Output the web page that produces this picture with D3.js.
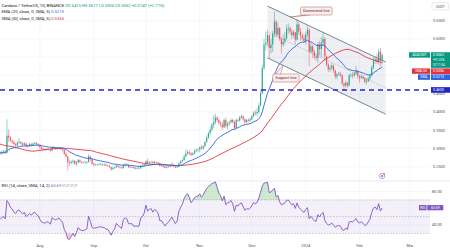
<!DOCTYPE html>
<html>
<head>
<meta charset="utf-8">
<script src="https://cdn.jsdelivr.net/npm/d3@7"></script>
<style>
html, body { margin: 0; padding: 0; background: #fff; }
svg { display: block; font-family: Roboto, "Open Sans", sans-serif; }
</style>
</head>
<body>
<svg id="chart" width="450" height="249"></svg>
<script>
// closes before the visible range (May 20 - Jul 8 2023), only feed the indicators
const warmup = [0.370,0.365,0.362,0.366,0.356,0.357,0.362,0.366,0.380,0.373,0.374,0.372,
  0.367,0.374,0.375,0.376,0.348,0.360,0.327,0.327,0.310,0.265,0.275,0.276,0.275,0.260,0.255,
  0.268,0.272,0.266,0.272,0.285,0.298,0.290,0.292,0.283,0.283,0.278,0.282,0.281,0.277,0.287,
  0.295,0.290,0.292,0.290,0.283,0.280,0.287,0.286];

// daily candles [close, high, low], first day Jul 9 2023
const jul23 = [[0.287,0.292,0.283],[0.290,0.294,0.282],[0.292,0.296,0.286],[0.288,0.297,0.285],
  [0.335,0.380,0.286],[0.330,0.352,0.318],[0.322,0.334,0.318],[0.318,0.325,0.312],[0.312,0.320,0.305],
  [0.308,0.315,0.302],[0.316,0.322,0.306],[0.318,0.328,0.312],[0.314,0.320,0.310],[0.310,0.317,0.306],
  [0.314,0.318,0.308],[0.306,0.315,0.302],[0.308,0.311,0.302],[0.312,0.316,0.305],[0.309,0.315,0.305],
  [0.313,0.317,0.307],[0.315,0.318,0.311],[0.311,0.318,0.308],[0.309,0.315,0.305]];
const aug23 = [[0.303,0.312,0.298],[0.298,0.306,0.294],[0.297,0.302,0.294],[0.296,0.300,0.292],
  [0.298,0.301,0.294],[0.297,0.300,0.294],[0.294,0.299,0.289],[0.302,0.306,0.292],[0.300,0.307,0.297],
  [0.299,0.303,0.296],[0.300,0.303,0.296],[0.301,0.304,0.298],[0.298,0.303,0.295],[0.296,0.302,0.292],
  [0.285,0.298,0.282],[0.278,0.290,0.275],[0.262,0.280,0.240],[0.260,0.270,0.252],[0.263,0.268,0.256],
  [0.266,0.270,0.259],[0.258,0.268,0.254],[0.262,0.265,0.252],[0.268,0.272,0.258],[0.263,0.270,0.260],
  [0.262,0.265,0.258],[0.261,0.264,0.258],[0.262,0.265,0.259],[0.263,0.266,0.258],[0.278,0.285,0.261],
  [0.270,0.280,0.266],[0.258,0.273,0.255]];
const sep23 = [[0.255,0.262,0.250],[0.256,0.258,0.253],[0.256,0.258,0.253],[0.257,0.260,0.253],
  [0.257,0.260,0.253],[0.256,0.259,0.252],[0.256,0.259,0.252],[0.253,0.259,0.250],[0.253,0.255,0.251],
  [0.249,0.254,0.247],[0.243,0.251,0.238],[0.246,0.250,0.242],[0.248,0.250,0.244],[0.253,0.256,0.247],
  [0.250,0.254,0.247],[0.248,0.251,0.246],[0.246,0.250,0.244],[0.254,0.258,0.245],[0.256,0.260,0.251],
  [0.255,0.260,0.252],[0.249,0.256,0.246],[0.249,0.252,0.246],[0.249,0.251,0.247],[0.246,0.250,0.244],
  [0.246,0.249,0.243],[0.246,0.249,0.243],[0.246,0.252,0.244],[0.252,0.255,0.244],[0.253,0.257,0.250],
  [0.256,0.258,0.251]];
const oct23 = [[0.265,0.268,0.254],[0.260,0.272,0.258],[0.262,0.265,0.257],[0.263,0.266,0.259],
  [0.260,0.266,0.257],[0.263,0.266,0.258],[0.262,0.264,0.260],[0.260,0.263,0.258],[0.253,0.261,0.250],
  [0.253,0.256,0.250],[0.250,0.255,0.247],[0.247,0.252,0.245],[0.249,0.252,0.246],[0.250,0.252,0.248],
  [0.252,0.254,0.249],[0.254,0.262,0.251],[0.251,0.256,0.248],[0.248,0.253,0.246],[0.250,0.253,0.246],
  [0.259,0.263,0.249],[0.264,0.268,0.258],[0.268,0.272,0.262],[0.278,0.283,0.266],[0.286,0.298,0.276],
  [0.290,0.295,0.282],[0.287,0.295,0.282],[0.282,0.290,0.279],[0.286,0.290,0.281],[0.293,0.297,0.284],
  [0.296,0.300,0.290],[0.297,0.300,0.289]];
const nov23 = [[0.303,0.306,0.290],[0.300,0.310,0.297],[0.306,0.308,0.296],[0.318,0.320,0.304],
  [0.330,0.336,0.316],[0.342,0.346,0.326],[0.352,0.360,0.336],[0.365,0.370,0.346],[0.372,0.392,0.356],
  [0.385,0.395,0.366],[0.378,0.388,0.372],[0.370,0.382,0.365],[0.366,0.375,0.358],[0.358,0.372,0.350],
  [0.378,0.382,0.356],[0.362,0.385,0.355],[0.368,0.372,0.352],[0.372,0.375,0.362],[0.378,0.382,0.368],
  [0.372,0.382,0.368],[0.356,0.376,0.350],[0.378,0.382,0.354],[0.376,0.382,0.372],[0.385,0.390,0.374],
  [0.388,0.392,0.382],[0.380,0.390,0.375],[0.372,0.383,0.366],[0.378,0.381,0.368],[0.376,0.383,0.372],
  [0.380,0.384,0.374]];
const dec23 = [[0.388,0.392,0.378],[0.398,0.402,0.386],[0.396,0.405,0.390],[0.400,0.410,0.388],
  [0.418,0.425,0.395],[0.452,0.460,0.415],[0.520,0.530,0.448],[0.585,0.600,0.515],[0.590,0.620,0.568],
  [0.610,0.625,0.580],[0.575,0.612,0.545],[0.585,0.600,0.560],[0.615,0.622,0.565],[0.648,0.675,0.605],
  [0.612,0.652,0.605],[0.630,0.645,0.605],[0.600,0.632,0.595],[0.585,0.605,0.560],[0.592,0.612,0.578],
  [0.602,0.618,0.585],[0.628,0.640,0.598],[0.630,0.642,0.615],[0.620,0.634,0.612],[0.610,0.626,0.600],
  [0.618,0.625,0.605],[0.598,0.620,0.585],[0.640,0.655,0.595],[0.620,0.648,0.612],[0.610,0.630,0.595],
  [0.602,0.615,0.596],[0.595,0.612,0.590]];
const jan24 = [[0.612,0.618,0.585],[0.625,0.635,0.605],[0.565,0.630,0.525],[0.580,0.590,0.560],
  [0.565,0.585,0.548],[0.552,0.570,0.545],[0.548,0.560,0.540],[0.585,0.592,0.535],[0.572,0.595,0.555],
  [0.590,0.605,0.550],[0.600,0.620,0.580],[0.552,0.605,0.540],[0.530,0.553,0.525],[0.517,0.535,0.510],
  [0.520,0.527,0.510],[0.527,0.535,0.515],[0.513,0.530,0.507],[0.497,0.517,0.490],[0.503,0.507,0.490],
  [0.505,0.510,0.500],[0.500,0.510,0.495],[0.478,0.503,0.472],[0.472,0.480,0.458],[0.480,0.486,0.468],
  [0.472,0.482,0.465],[0.500,0.505,0.470],[0.502,0.506,0.495],[0.500,0.508,0.492],[0.506,0.510,0.495],
  [0.512,0.525,0.502],[0.498,0.515,0.492]];
const feb24 = [[0.494,0.500,0.480],[0.497,0.504,0.490],[0.492,0.500,0.489],[0.482,0.495,0.478],
  [0.484,0.492,0.475],[0.492,0.497,0.482],[0.500,0.504,0.486],[0.522,0.527,0.497],[0.540,0.550,0.517],
  [0.544,0.552,0.532],[0.537,0.560,0.532],[0.565,0.572,0.530],[0.5415,0.575,0.525],[0.5562,0.5617,0.5306]];

// last indicator values as printed in the legends
const emaLast = 0.5213, smaLast = 0.5356, rsiLast = 60.69;

const monthDates = ['2023-08-01','2023-09-01','2023-10-01','2023-11-01','2023-12-01','2024-01-01','2024-02-01','2024-03-01'];
const monthLabels = ['Aug','Sep','Oct','Nov','Dec','2024','Feb','Mar'];
const priceTicks = [0.25,0.30,0.35,0.40,0.45,0.50,0.55,0.60,0.65];
const rsiTicks = [80,40];
const supportLevel = 0.46;

// channel drawn on the chart: [date, price]
const channelUpper = [['2023-12-10',0.690],['2024-02-16',0.537]];
const channelLower = [['2023-12-10',0.548],['2024-02-16',0.394]];
const channelMid = [['2023-12-10',0.619],['2024-02-16',0.466]];
const callouts = [
  {text:'Downtrend line', date:'2023-12-29', price:0.6875, tipDate:'2023-12-23', tipPrice:0.660},
  {text:'Support line', date:'2023-12-13', price:0.504, tipDate:'2023-12-19', tipPrice:0.5286}
];

const upColor = '#089981', downColor = '#f23645';
const emaColor = '#2e62e0', smaColor = '#e03340', rsiColor = '#7e57c2';

const svg = d3.select('svg#chart');
const plotW = 430;
const priceTop = 0, priceBottom = 181, rsiTop = 181, rsiBottom = 240;

const parse = d3.utcParse('%Y-%m-%d');
const startDate = parse('2023-07-09');
const candles = [].concat(jul23, aug23, sep23, oct23, nov23, dec23, jan24, feb24);
const allCloses = warmup.concat(candles.map(d => d[0]));
const data = candles.map((d, i) => ({
  date: d3.utcDay.offset(startDate, i),
  open: allCloses[warmup.length + i - 1],
  close: d[0], high: d[1], low: d[2]
}));

// indicators
const ema = [];
allCloses.forEach((c, i) => {
  ema.push(i === 0 ? c : c * 2 / 21 + ema[i - 1] * 19 / 21);
});
const sma = allCloses.map((c, i) => i < 49 ? null : d3.mean(allCloses.slice(i - 49, i + 1)));
const rsi = allCloses.map(() => null);
let au = 0, ad = 0;
for (let i = 1; i < allCloses.length; i++) {
  const ch = allCloses[i] - allCloses[i - 1];
  const u = Math.max(ch, 0), dn = Math.max(-ch, 0);
  if (i <= 14) { au += u / 14; ad += dn / 14; }
  else { au = (au * 13 + u) / 14; ad = (ad * 13 + dn) / 14; }
  if (i >= 14) rsi[i] = ad === 0 ? 100 : 100 - 100 / (1 + au / ad);
}
const off = warmup.length;
data.forEach((d, i) => { d.ema = ema[off + i]; d.sma = sma[off + i]; d.rsi = rsi[off + i]; });

const x = d3.scaleUtc()
  .domain([startDate, d3.utcDay.offset(startDate, 248)])
  .range([0, 248 * 1.737]);
const y = d3.scaleLinear().domain([0.25, 0.65]).range([166.7, 20.7]);
const yR = d3.scaleLinear().domain([40, 80]).range([225, 191.5]);

const defs = svg.append('defs');
defs.append('clipPath').attr('id', 'clipPrice').append('rect')
  .attr('x', 0).attr('y', priceTop).attr('width', plotW).attr('height', priceBottom - priceTop);
defs.append('clipPath').attr('id', 'clipRsi').append('rect')
  .attr('x', 0).attr('y', rsiTop).attr('width', plotW).attr('height', rsiBottom - rsiTop);

// grid
const grid = svg.append('g');
grid.selectAll('line.v').data(monthDates).enter().append('line')
  .attr('x1', d => x(parse(d))).attr('x2', d => x(parse(d)))
  .attr('y1', 0).attr('y2', rsiBottom)
  .attr('stroke', '#f0f3fa').attr('stroke-width', 0.7);
grid.selectAll('line.h').data(priceTicks).enter().append('line')
  .attr('x1', 0).attr('x2', plotW).attr('y1', d => y(d)).attr('y2', d => y(d))
  .attr('stroke', '#f0f3fa').attr('stroke-width', 0.7);
grid.selectAll('line.r').data(rsiTicks).enter().append('line')
  .attr('x1', 0).attr('x2', plotW).attr('y1', d => yR(d)).attr('y2', d => yR(d))
  .attr('stroke', '#f0f3fa').attr('stroke-width', 0.7);
svg.append('line').attr('x1', 0).attr('x2', 450).attr('y1', rsiTop).attr('y2', rsiTop)
  .attr('stroke', '#e0e3eb').attr('stroke-width', 0.7);

// price pane
const gp = svg.append('g').attr('clip-path', 'url(#clipPrice)');
const pt = p => [x(parse(p[0])), y(p[1])];

gp.append('polygon')
  .attr('points', [pt(channelUpper[0]), pt(channelUpper[1]), pt(channelLower[1]), pt(channelLower[0])].join(' '))
  .attr('fill', 'rgba(120,134,160,0.13)');
gp.append('line')
  .attr('x1', pt(channelMid[0])[0]).attr('y1', pt(channelMid[0])[1])
  .attr('x2', pt(channelMid[1])[0]).attr('y2', pt(channelMid[1])[1])
  .attr('stroke', '#9aa0ab').attr('stroke-width', 0.6).attr('stroke-dasharray', '1.2,1.2');

// candles
const cw = 1.1;
const cg = gp.append('g').attr('opacity', 0.85);
cg.selectAll('line').data(data).enter().append('line')
  .attr('x1', d => x(d.date)).attr('x2', d => x(d.date))
  .attr('y1', d => y(d.high)).attr('y2', d => y(d.low))
  .attr('stroke', d => d.close >= d.open ? upColor : downColor)
  .attr('stroke-width', 0.5);
cg.selectAll('rect').data(data).enter().append('rect')
  .attr('x', d => x(d.date) - cw / 2)
  .attr('y', d => y(Math.max(d.open, d.close)))
  .attr('width', cw)
  .attr('height', d => Math.max(0.5, Math.abs(y(d.open) - y(d.close))))
  .attr('fill', d => d.close >= d.open ? upColor : downColor);

// moving averages
const maLine = key => d3.line().defined(d => d[key] != null).x(d => x(d.date)).y(d => y(d[key]));
gp.append('path').datum(data).attr('d', maLine('sma'))
  .attr('fill', 'none').attr('stroke', smaColor).attr('stroke-width', 0.9);
gp.append('path').datum(data).attr('d', maLine('ema'))
  .attr('fill', 'none').attr('stroke', emaColor).attr('stroke-width', 0.9);

// channel lines
[channelUpper, channelLower].forEach(c => {
  gp.append('line')
    .attr('x1', pt(c[0])[0]).attr('y1', pt(c[0])[1])
    .attr('x2', pt(c[1])[0]).attr('y2', pt(c[1])[1])
    .attr('stroke', '#5f7f82').attr('stroke-width', 0.9);
});

// support level
gp.append('line')
  .attr('x1', 0).attr('x2', plotW).attr('y1', y(supportLevel)).attr('y2', y(supportLevel))
  .attr('stroke', '#2424c4').attr('stroke-width', 1.4).attr('stroke-dasharray', '5,4');

// callouts
callouts.forEach(c => {
  const bx = x(parse(c.date)), by = y(c.price);
  const g = svg.append('g');
  const t = g.append('text').attr('x', bx + 2.5).attr('y', by + 5.3)
    .attr('font-size', 4).attr('fill', '#5b2a2a').text(c.text);
  const bb = t.node().getBBox();
  const w = bb.width + 5, h = 8;
  const tx = x(parse(c.tipDate)), ty = y(c.tipPrice);
  const below = ty > by + h;
  g.insert('path', 'text')
    .attr('d', below
      ? `M${bx + 5},${by + h} L${tx},${ty} L${bx + 10},${by + h}`
      : `M${bx + 3},${by} L${tx},${ty} L${bx + 8},${by}`)
    .attr('fill', '#fbeeee').attr('stroke', '#b56262').attr('stroke-width', 0.5);
  g.insert('rect', 'text').attr('x', bx).attr('y', by).attr('width', w).attr('height', h)
    .attr('rx', 1.5).attr('fill', '#fbeeee').attr('stroke', '#b56262').attr('stroke-width', 0.5);
});

// rsi pane
const gr = svg.append('g').attr('clip-path', 'url(#clipRsi)');
gr.append('rect').attr('x', 0).attr('width', plotW)
  .attr('y', yR(70)).attr('height', yR(30) - yR(70))
  .attr('fill', 'rgba(126,87,194,0.09)');
[70, 50, 30].forEach(v => {
  gr.append('line').attr('x1', 0).attr('x2', plotW).attr('y1', yR(v)).attr('y2', yR(v))
    .attr('stroke', '#a3a6af').attr('stroke-width', 0.6).attr('stroke-dasharray', '1.5,1.5');
});
const rsiData = data.filter(d => d.rsi != null);
gr.append('path').datum(rsiData)
  .attr('d', d3.area().x(d => x(d.date)).y0(yR(70)).y1(d => yR(Math.max(70, d.rsi))))
  .attr('fill', 'rgba(76,175,80,0.28)');
gr.append('path').datum(rsiData)
  .attr('d', d3.area().x(d => x(d.date)).y0(yR(30)).y1(d => yR(Math.min(30, d.rsi))))
  .attr('fill', 'rgba(242,54,69,0.25)');
gr.append('path').datum(rsiData)
  .attr('d', d3.line().x(d => x(d.date)).y(d => yR(d.rsi)))
  .attr('fill', 'none').attr('stroke', rsiColor).attr('stroke-width', 0.9);

// event marker
const last = data[data.length - 1];
svg.append('circle').attr('cx', x(last.date)).attr('cy', 176).attr('r', 2.6)
  .attr('fill', '#fff').attr('stroke', '#a05bc4').attr('stroke-width', 0.6);
svg.append('circle').attr('cx', x(last.date)).attr('cy', 176).attr('r', 0.9).attr('fill', '#8e44ad');
svg.append('circle').attr('cx', x(last.date) + 2).attr('cy', 174).attr('r', 0.8).attr('fill', '#f23645');

// axis tags: [top, height]
const adaTop = y(last.close) - 2.7;
const tagSpans = [[adaTop, 15.6], [68.4, 5.6], [74.4, 5.6]];
const hidden = v => tagSpans.some(s => y(v) > s[0] && y(v) < s[0] + s[1]);

// right axis labels
const axisFont = 3.9;
svg.selectAll('text.py').data(priceTicks.filter(v => !hidden(v))).enter().append('text')
  .attr('x', 433).attr('y', d => y(d) + 1.4)
  .attr('font-size', axisFont).attr('fill', '#50535e').text(d => d.toFixed(4));
svg.selectAll('text.ry').data(rsiTicks).enter().append('text')
  .attr('x', 432).attr('y', d => yR(d) + 1.4)
  .attr('font-size', axisFont).attr('fill', '#50535e').text(d => d.toFixed(2));
svg.selectAll('text.mx').data(monthDates).enter().append('text')
  .attr('x', d => x(parse(d))).attr('y', 246.5).attr('text-anchor', 'middle')
  .attr('font-size', axisFont).attr('fill', '#50535e').text((d, i) => monthLabels[i]);

// USDT box
svg.append('rect').attr('x', 432).attr('y', 2.8).attr('width', 16.5).attr('height', 7)
  .attr('rx', 1).attr('fill', '#fff').attr('stroke', '#d1d4dc').attr('stroke-width', 0.5);
svg.append('text').attr('x', 440.2).attr('y', 7.6).attr('text-anchor', 'middle')
  .attr('font-size', 3.6).attr('fill', '#50535e').text('USDT');

// price tags on axis
const tag = (name, nameX, top, lines, color) => {
  const h = lines.length * 5 + 0.6;
  if (name) {
    svg.append('rect').attr('x', nameX).attr('y', top).attr('width', 430 - nameX).attr('height', 5.4)
      .attr('fill', color);
    svg.append('text').attr('x', (nameX + 430) / 2).attr('y', top + 3.9).attr('text-anchor', 'middle')
      .attr('font-size', 3.3).attr('fill', '#fff').text(name);
  }
  svg.append('rect').attr('x', 431).attr('y', top).attr('width', 19).attr('height', h).attr('fill', color);
  lines.forEach((l, i) => {
    svg.append('text').attr('x', 433).attr('y', top + 3.9 + i * 5)
      .attr('font-size', i === 0 ? 3.6 : 3.0).attr('fill', '#fff').text(l);
  });
};
tag('ADAUSDT', 409, adaTop, [last.close.toFixed(4), '+91.33%', '07:11:54'], upColor);
tag('SMA 50', 412, 68.4, [smaLast.toFixed(4)], smaColor);
tag('EMA', 418, 74.4, [emaLast.toFixed(4)], emaColor);
tag(null, 0, y(supportLevel) - 2.9, [supportLevel.toFixed(4)], '#2424c4');

const rsiTop2 = yR(rsiLast) - 2.6;
svg.append('rect').attr('x', 419).attr('y', rsiTop2).attr('width', 7.5).attr('height', 5.2).attr('fill', rsiColor);
svg.append('text').attr('x', 422.7).attr('y', rsiTop2 + 3.9).attr('text-anchor', 'middle')
  .attr('font-size', 3.4).attr('fill', '#fff').text('RSI');
svg.append('rect').attr('x', 427.3).attr('y', rsiTop2).attr('width', 16).attr('height', 5.2).attr('fill', rsiColor);
svg.append('text').attr('x', 435.3).attr('y', rsiTop2 + 3.9).attr('text-anchor', 'middle')
  .attr('font-size', 3.5).attr('fill', '#fff').text(rsiLast.toFixed(2));

// legends
const fs = 4.2;
const l1 = svg.append('text').attr('x', 1.5).attr('y', 7).attr('font-size', fs).attr('fill', '#131722');
l1.append('tspan').text('Cardano / TetherUS, 1D, BINANCE ');
l1.append('tspan').attr('fill', upColor)
  .text(`O${last.open.toFixed(4)} H${last.high.toFixed(4)} L${last.low.toFixed(4)} C${last.close.toFixed(4)} +${(last.close - last.open).toFixed(4)} (+${((last.close - last.open) / last.open * 100).toFixed(2)}%)`);
const l2 = svg.append('text').attr('x', 1.5).attr('y', 13.3).attr('font-size', fs).attr('fill', '#131722');
l2.append('tspan').text('EMA (20, close, 0, SMA, 5) ');
l2.append('tspan').attr('fill', emaColor).text(emaLast.toFixed(4));
const l3 = svg.append('text').attr('x', 1.5).attr('y', 19.6).attr('font-size', fs).attr('fill', '#131722');
l3.append('tspan').text('SMA (50, close, 0, SMA, 5) ');
l3.append('tspan').attr('fill', smaColor).text(smaLast.toFixed(4));
const l4 = svg.append('text').attr('x', 1.5).attr('y', 186.5).attr('font-size', fs).attr('fill', '#131722');
l4.append('tspan').text('RSI (14, close, SMA, 14, 2) ');
l4.append('tspan').attr('fill', rsiColor).text(rsiLast.toFixed(2));
l4.append('tspan').attr('fill', '#787b86').text('  \u2205  \u2205  \u2205  \u2205');
</script>
</body>
</html>
